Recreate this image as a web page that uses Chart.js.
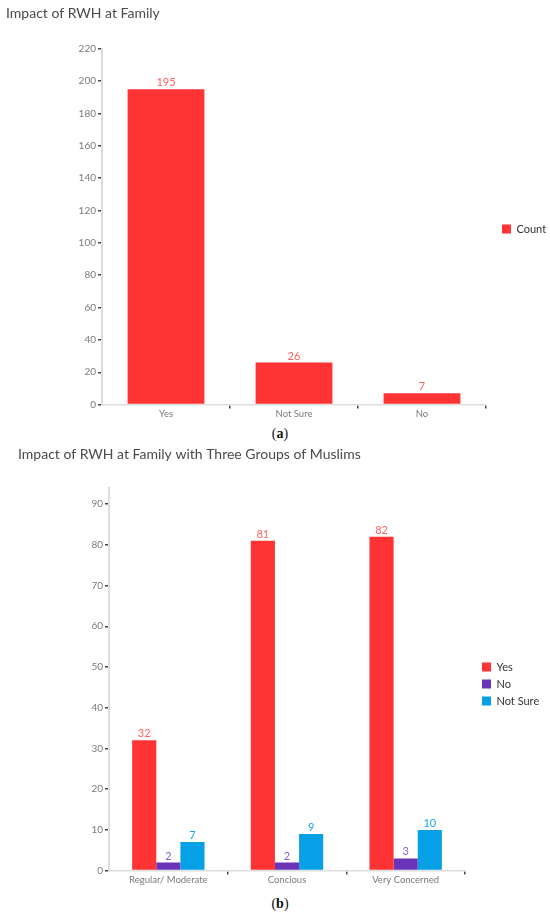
<!DOCTYPE html>
<html>
<head>
<meta charset="utf-8">
<script src="https://cdn.jsdelivr.net/npm/chart.js@4.4.1/dist/chart.umd.min.js"></script>
<style>
  body { margin: 0; background: #fff; width: 550px; height: 920px; position: relative; overflow: hidden; }
  .wrap { position: absolute; }
  #wrapA { left: 6px; top: 0; width: 544px; height: 420px; }
  #wrapB { left: 18px; top: 440px; width: 532px; height: 446px; }
  .cap { position: absolute; left: 0; width: 560px; text-align: center; font-family: 'Liberation Serif', serif; font-size: 14px; color: #111; }
</style>
</head>
<body>
<div class="wrap" id="wrapA"><canvas id="chartA"></canvas></div>
<div class="cap" style="top:426px">(<b>a</b>)</div>
<div class="wrap" id="wrapB"><canvas id="chartB"></canvas></div>
<div class="cap" style="top:896px">(<b>b</b>)</div>
<script>
// chart (a) data
const catsA  = ['Yes', 'Not Sure', 'No'];
const countA = [195, 26, 7];

// chart (b) data
const catsB    = ['Regular/ Moderate', 'Concious', 'Very Concerned'];
const yesB     = [32, 81, 82];
const noB      = [2, 2, 3];
const notSureB = [7, 9, 10];

// colours
const RED    = '#FF3333';
const PURPLE = '#6A33B8';
const BLUE   = '#06A0E6';
const FONT   = "Lato, 'Liberation Sans', Arial, sans-serif";

// draw the value above every bar
const valueLabels = {
    id: 'valueLabels',
    afterDatasetsDraw(chart) {
        const ctx = chart.ctx;
        chart.data.datasets.forEach((ds, i) => {
            const meta = chart.getDatasetMeta(i);
            meta.data.forEach((bar, j) => {
                ctx.save();
                ctx.fillStyle = ds.labelColor;
                ctx.font = '11px ' + FONT;
                ctx.textAlign = 'center';
                ctx.textBaseline = 'bottom';
                ctx.fillText(ds.data[j], bar.x, bar.y - 1);
                ctx.restore();
            });
        });
    }
};

// x axis: small marks only between the categories
function xAxis() {
    return {
        grid: {
            drawOnChartArea: false,
            tickLength: 4,
            lineWidth: 1.5,
            tickColor: c => (c.index === 0 || c.index === 3) ? 'rgba(0,0,0,0)' : '#444'
        },
        border: { color: '#dddddd', width: 1.5 },
        ticks: { color: '#7a7a7a', padding: 0, font: { family: FONT, size: 9.5 } }
    };
}

function yAxis(width, max, step) {
    return {
        min: 0,
        max: max,
        grid: { drawOnChartArea: false, tickLength: 4, lineWidth: 1.5, tickColor: '#444' },
        border: { color: '#dcdcdc', width: 2 },
        ticks: { stepSize: step, color: '#7a7a7a', padding: 2, font: { family: FONT, size: 10 } },
        afterBuildTicks: s => { s.ticks = s.ticks.filter(t => t.value % step === 0); },
        afterFit: s => { s.width = width; }
    };
}

// empty axis, only used as a gap between the plot and the legend
function spacer(width) {
    return {
        position: 'right',
        display: true,
        grid: { display: false },
        border: { display: false },
        ticks: { display: false },
        afterFit: s => { s.width = width; }
    };
}

function titleOpts(text, top, bottom) {
    return {
        display: true,
        text: text,
        align: 'start',
        color: '#4a4a4a',
        font: { family: FONT, size: 14, weight: 'normal' },
        padding: { top: top, bottom: bottom }
    };
}

// blank legend title pushes the items down a little
function legendOpts(maxWidth, shift) {
    return {
        position: 'right',
        maxWidth: maxWidth,
        title: { display: true, text: ' ', font: { size: 10 }, padding: { top: shift, bottom: 0 } },
        labels: {
            boxWidth: 9,
            boxHeight: 9,
            padding: 6,
            color: '#333',
            font: { family: FONT, size: 11 }
        }
    };
}

new Chart(document.getElementById('chartA'), {
    type: 'bar',
    data: {
        labels: catsA,
        datasets: [{
            label: 'Count',
            data: countA,
            backgroundColor: RED,
            labelColor: '#FF6060',
            categoryPercentage: 0.6,
            barPercentage: 1.0
        }]
    },
    options: {
        responsive: true,
        maintainAspectRatio: false,
        animation: false,
        layout: { padding: { right: 4 } },
        plugins: {
            title: titleOpts('Impact of RWH at Family', 5, 27),
            legend: legendOpts(50, 26),
            tooltip: { enabled: false }
        },
        scales: {
            x: xAxis(),
            y: yAxis(96, 220, 20),
            gap: spacer(10)
        }
    },
    plugins: [valueLabels]
});

new Chart(document.getElementById('chartB'), {
    type: 'bar',
    data: {
        labels: catsB,
        datasets: [
            { label: 'Yes', data: yesB, backgroundColor: RED, labelColor: '#FF6060' },
            { label: 'No', data: noB, backgroundColor: PURPLE, labelColor: '#8A5CD6' },
            { label: 'Not Sure', data: notSureB, backgroundColor: BLUE, labelColor: '#12A6EE' }
        ]
    },
    options: {
        responsive: true,
        maintainAspectRatio: false,
        animation: false,
        layout: { padding: { right: 8 } },
        datasets: { bar: { categoryPercentage: 0.61, barPercentage: 1.0 } },
        plugins: {
            title: titleOpts('Impact of RWH at Family with Three Groups of Muslims', 6, 25),
            legend: legendOpts(66, 30),
            tooltip: { enabled: false }
        },
        scales: {
            x: xAxis(),
            y: yAxis(91, 94, 10),
            gap: spacer(11)
        }
    },
    plugins: [valueLabels]
});
</script>
</body>
</html>
